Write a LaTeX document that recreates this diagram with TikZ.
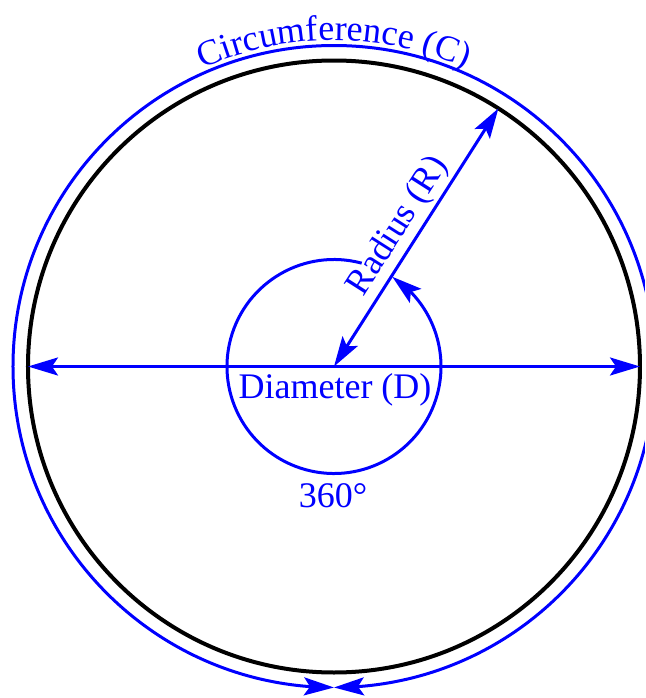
\documentclass[tikz,border=0pt]{standalone}
\usepackage{fontspec}
\setmainfont{Liberation Serif}
\usetikzlibrary{arrows.meta,bending,decorations.text}

\begin{document}
\fontsize{18}{22}\selectfont
\begin{tikzpicture}[x=0.5pt, y=0.5pt,
    >={Stealth[length=15pt, width=9pt, inset=3pt, flex]},
    rimline/.style={line width=2pt, black},
    measure/.style={line width=1.5pt, blue},
    lbl/.style={text=blue, font=\fontsize{18}{22}\selectfont}]

    % ============================================================
    % FRAME
    % ============================================================
    \clip (-334,-331.5) rectangle (311,366.5);

    \coordinate (O) at (0,0);
    \coordinate (west) at (180:306);
    \coordinate (east) at (0:306);
    \coordinate (rimR) at (57.5:306);

    % ============================================================
    % CIRCUMFERENCE (OUTER BLUE RING)
    % ============================================================
    \draw[measure, <->]
        (-90:321) arc[start angle=-90, end angle=270, radius=321];
    \path[decorate, decoration={text along path, text align=center,
        text color=blue, text={Circumference (C)}}]
        (150:326) arc[start angle=150, end angle=30, radius=326];

    % ============================================================
    % THE CIRCLE
    % ============================================================
    \draw[rimline] (O) circle[radius=306];

    % ============================================================
    % DIAMETER
    % ============================================================
    \draw[measure, <->] (west) -- (east);
    \node[lbl, anchor=base] (diam) at (1,-31.5) {Diameter (D)};

    % ============================================================
    % RADIUS
    % ============================================================
    \draw[measure, <->] (O) -- (rimR)
        node[lbl, midway, sloped, above, inner sep=1.5pt] (rad) {Radius (R)};

    % ============================================================
    % FULL TURN
    % ============================================================
    \draw[measure, ->]
        (75:107) arc[start angle=75, end angle=417, radius=107];
    \node[lbl, anchor=base] (turn) at (-1,-140.5) {360°};

\end{tikzpicture}
\end{document}
